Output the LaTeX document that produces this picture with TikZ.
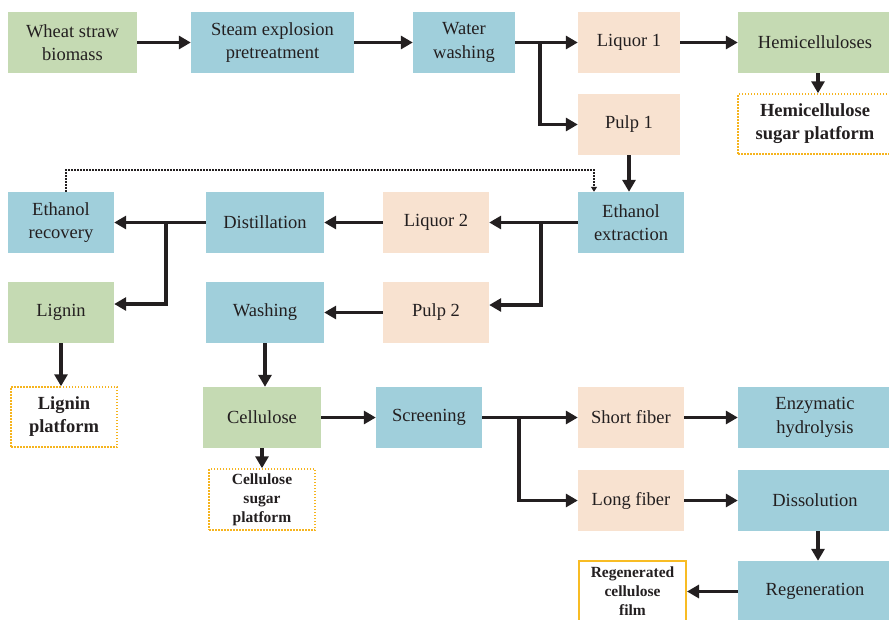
\documentclass[tikz,border=0pt]{standalone}
\usepackage{fontspec}
\setmainfont{Liberation Serif}
\usetikzlibrary{arrows.meta}
\definecolor{boxgreen}{RGB}{197,218,179}
\definecolor{boxblue}{RGB}{160,207,219}
\definecolor{boxpeach}{RGB}{248,226,208}
\definecolor{platorange}{RGB}{246,180,30}
\definecolor{filmorange}{RGB}{248,188,36}
\definecolor{ink}{RGB}{35,31,32}
\begin{document}
\begin{tikzpicture}[x=1pt,y=-1pt,
  box/.style={rectangle, inner sep=0pt, minimum height=61pt, align=center,
    text=ink, font=\fontsize{18.5}{23.5}\selectfont},
  greenbox/.style={box, fill=boxgreen},
  bluebox/.style={box, fill=boxblue},
  peachbox/.style={box, fill=boxpeach},
  platbox/.style={box, minimum height=60pt, draw=platorange, line width=1.5pt,
    dash pattern=on 1.5pt off 1.5pt, font=\fontsize{18.5}{23}\selectfont\bfseries},
  smallplat/.style={platbox, font=\fontsize{15.5}{19}\selectfont\bfseries},
  arr/.style={draw=ink, line width=3.8pt, -{Triangle[length=12pt,width=13pt]}},
  dotarr/.style={draw=ink, line width=1.5pt, dash pattern=on 1.5pt off 1.5pt,
    -{Triangle[length=5pt,width=6pt]}},
]
\useasboundingbox (0,0) rectangle (889,619);
\clip (0,0) rectangle (889,619);

% first row: pretreatment
\node[greenbox, minimum width=129pt] (wheat) at (72.5,42.5) {Wheat straw\\biomass};
\node[bluebox, minimum width=163pt] (steam) at (272.5,42.5) {Steam explosion\\pretreatment};
\node[bluebox, minimum width=102pt] (water) at (464,42.5) {Water\\washing};
\node[peachbox, minimum width=102pt] (liq1) at (629,42.5) {Liquor 1};
\node[greenbox, minimum width=154pt] (hemi) at (815,42.5) {Hemicelluloses};
\node[platbox, minimum width=154pt] (hemiplat) at (815,124) {Hemicellulose\\sugar platform};
\node[peachbox, minimum width=102pt] (pulp1) at (629,124.5) {Pulp 1};

% ethanol extraction stage
\node[bluebox, minimum width=106pt] (ethx) at (631,222.5) {Ethanol\\extraction};
\node[peachbox, minimum width=106pt] (liq2) at (436,222.5) {Liquor 2};
\node[bluebox, minimum width=118pt] (dist) at (265,222.5) {Distillation};
\node[bluebox, minimum width=106pt] (etrec) at (61,222.5) {Ethanol\\recovery};
\node[peachbox, minimum width=106pt] (pulp2) at (436,312.5) {Pulp 2};
\node[bluebox, minimum width=118pt] (washing) at (265,312.5) {Washing};
\node[greenbox, minimum width=106pt] (lignin) at (61,312.5) {Lignin};
\node[platbox, minimum width=106pt] (ligplat) at (64,417) {Lignin\\platform};

% cellulose stage
\node[greenbox, minimum width=118pt] (cellulose) at (262,417.5) {Cellulose};
\node[smallplat, minimum width=106pt, minimum height=61pt] (cellplat) at (262,499.5) {Cellulose\\sugar\\platform};
\node[bluebox, minimum width=106pt] (screening) at (429,417.5) {Screening};
\node[peachbox, minimum width=106pt] (short) at (631,417.5) {Short fiber};
\node[bluebox, minimum width=154pt] (enz) at (815,417.5) {Enzymatic\\hydrolysis};
\node[peachbox, minimum width=106pt] (long) at (631,500.5) {Long fiber};
\node[bluebox, minimum width=154pt] (diss) at (815,500.5) {Dissolution};
\node[bluebox, minimum width=154pt] (regen) at (815,591.5) {Regeneration};
\node[box, minimum width=107pt, fill=white, draw=filmorange, line width=2pt,
  font=\fontsize{15.5}{19}\selectfont\bfseries] (film) at (632.5,591.5) {Regenerated\\cellulose\\film};

% branch points and bends
\coordinate (b1) at (540,42.5);
\coordinate (b2) at (541,222.5);
\coordinate (k2) at (541,305);
\coordinate (b3) at (166,222.5);
\coordinate (k3) at (166,304);
\coordinate (b4) at (519,417.5);
\coordinate (d1) at (66,170);
\coordinate (d2) at (594,170);
\coordinate (xr) at (818,0);

% connectors
\draw[arr] (wheat.east) -- (steam.west);
\draw[arr] (steam.east) -- (water.west);
\draw[arr] (water.east) -- (liq1.west);
\draw[arr] (b1) |- (pulp1.west);
\draw[arr] (liq1.east) -- (hemi.west);
\draw[arr] (hemi.south -| xr) -- (hemiplat.north -| xr);
\draw[arr] (pulp1.south) -- (pulp1.south |- ethx.north);
\draw[dotarr] (etrec.north -| d1) -- (d1) -- (d2) -- (ethx.north -| d2);
\draw[arr] (ethx.west) -- (liq2.east);
\draw[arr] (b2) -- (k2) -- (k2 -| pulp2.east);
\draw[arr] (liq2.west) -- (dist.east);
\draw[arr] (dist.west) -- (etrec.east);
\draw[arr] (b3) -- (k3) -- (k3 -| lignin.east);
\draw[arr] (lignin.south) -- (lignin.south |- ligplat.north);
\draw[arr] (pulp2.west) -- (washing.east);
\draw[arr] (washing.south) -- (washing.south |- cellulose.north);
\draw[arr] (cellulose.south) -- (cellplat.north);
\draw[arr] (cellulose.east) -- (screening.west);
\draw[arr] (screening.east) -- (short.west);
\draw[arr] (b4) |- (long.west);
\draw[arr] (short.east) -- (enz.west);
\draw[arr] (long.east) -- (diss.west);
\draw[arr] (diss.south -| xr) -- (regen.north -| xr);
\draw[arr] (regen.west) -- (film.east);
\end{tikzpicture}
\end{document}
